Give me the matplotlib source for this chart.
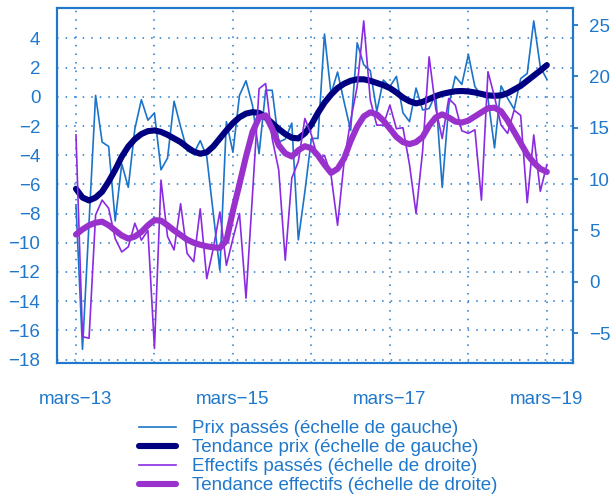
"""Prix passés / effectifs passés avec tendances, deux échelles."""

import matplotlib

matplotlib.use("Agg")

import numpy as np  # noqa: E402
from matplotlib import pyplot as plt  # noqa: E402

# mois de mars-13 à mars-19 (index mensuel)
MONTHS = np.arange(73)
YEAR_TICKS = [0, 12, 24, 36, 48, 60, 72]
YEAR_LABELS = ["mars\u221213", "", "mars\u221215", "", "mars\u221217", "", "mars\u221219"]

PRIX_PASSES = [
    -7.4, -17.3, -8.6, 0.1, -3.1, -3.4, -8.5, -4.6, -6.2, -2.2,
    -0.2, -1.6, -1.1, -5.0, -4.2, -0.3, -2.05, -3.7, -3.9, -3.0,
    -4.1, -8.0, -11.9, -1.7, -3.8, 0.1, 1.1, -0.6, -3.9, 0.45,
    0.45, -3.1, -2.9, -1.8, -9.8, -6.5, -2.85, -2.85, 4.3, 0.2,
    1.7, -0.35, -2.3, 3.7, 2.2, 1.8, -1.0, 1.15, 0.7, 1.4,
    -1.1, -1.7, 0.6, -0.9, -0.8, 0.2, -6.2, -0.6, 1.4, 0.85,
    2.9, 0.7, 0.07, -0.1, -3.5, 0.75, -0.1, -0.85, 1.25, 1.6,
    5.2, 2.05, 1.2,
]
TENDANCE_PRIX = [
    -6.3, -6.9, -7.1, -6.9, -6.5, -5.8, -5.0, -4.1, -3.4, -2.9,
    -2.55, -2.35, -2.3, -2.4, -2.6, -2.85, -3.1, -3.45, -3.75, -3.9,
    -3.8, -3.4, -2.85, -2.3, -1.8, -1.4, -1.15, -1.05, -1.1, -1.4,
    -1.8, -2.2, -2.55, -2.8, -2.85, -2.5, -1.9, -1.1, -0.4, 0.15,
    0.6, 0.9, 1.1, 1.2, 1.2, 1.1, 0.95, 0.8, 0.6, 0.3,
    -0.05, -0.3, -0.45, -0.35, -0.15, 0.05, 0.2, 0.3, 0.38, 0.4,
    0.37, 0.3, 0.2, 0.1, 0.07, 0.1, 0.25, 0.5, 0.75, 1.1,
    1.45, 1.8, 2.17,
]
EFFECTIFS_PASSES = [
    14.3, -5.35, -5.5, 6.5, 7.95, 7.15, 4.2, 2.9, 3.4, 5.7,
    4.05, 5.0, -6.5, 9.9, 4.4, 3.1, 7.6, 2.75, 1.95, 7.1,
    0.3, 3.25, 6.8, 1.6, 4.2, 6.65, -1.6, 8.6, 18.8, 19.3,
    13.95, 10.9, 2.1, 10.1, 11.7, 15.9, 14.3, 11.95, 12.3, 10.4,
    5.5, 11.7, 15.7, 19.0, 25.4, 17.7, 15.25, 15.25, 17.2, 14.9,
    15.0, 11.4, 6.65, 12.7, 21.9, 16.9, 13.95, 17.85, 17.2, 14.7,
    14.45, 14.8, 7.95, 20.45, 18.0, 15.25, 14.45, 16.7, 16.2, 7.7,
    14.3, 8.8, 11.4,
]
TENDANCE_EFFECTIFS = [
    4.6, 5.1, 5.5, 5.75, 5.85, 5.5, 5.0, 4.5, 4.2, 4.4,
    4.85, 5.5, 6.0, 5.95, 5.5, 5.0, 4.55, 4.1, 3.8, 3.6,
    3.45, 3.35, 3.3, 4.0, 6.9, 9.5, 12.2, 14.6, 16.0, 16.2,
    14.9, 13.3, 12.5, 12.2, 12.8, 13.2, 13.0, 12.3, 11.4, 10.6,
    11.0, 12.0, 13.7, 15.1, 16.1, 16.5, 16.3, 15.7, 14.9, 14.1,
    13.6, 13.4, 13.6, 14.1, 15.2, 16.0, 16.3, 16.0, 15.6, 15.5,
    15.7, 16.1, 16.5, 16.9, 16.95, 16.6, 15.7, 14.6, 13.5, 12.4,
    11.6, 11.0, 10.7,
]

AXIS_BLUE = "#1f78cc"
RAW_BLUE = "#1b74c8"
NAVY = "#000080"
RAW_PURPLE = "#8a2be2"
TREND_PURPLE = "#9932cc"

plt.rcParams["font.family"] = ["Liberation Sans", "DejaVu Sans"]
plt.rcParams["font.size"] = 13.5

fig = plt.figure(figsize=(6.11, 4.96), dpi=100)
ax = fig.add_axes([0.0933, 0.268, 0.8445, 0.7157])
ax2 = ax.twinx()

l1, = ax.plot(MONTHS, PRIX_PASSES, color=RAW_BLUE, lw=1.2,
              label="Prix passés (échelle de gauche)")
l2, = ax.plot(MONTHS, TENDANCE_PRIX, color=NAVY, lw=4.4, solid_capstyle="round",
              label="Tendance prix (échelle de gauche)")
l3, = ax2.plot(MONTHS, EFFECTIFS_PASSES, color=RAW_PURPLE, lw=1.2,
               label="Effectifs passés (échelle de droite)")
l4, = ax2.plot(MONTHS, TENDANCE_EFFECTIFS, color=TREND_PURPLE, lw=4.4,
               solid_capstyle="round",
               label="Tendance effectifs (échelle de droite)")

ax.set_xlim(-2.9, 76.0)
ax.set_ylim(-18.24, 6.08)
ax2.set_ylim(-7.92, 26.65)

ax.set_xticks(YEAR_TICKS)
ax.set_xticklabels(YEAR_LABELS)
ax.set_yticks(np.arange(-18, 5, 2))
ax2.set_yticks(np.arange(-5, 26, 5))

ax.grid(True, color=AXIS_BLUE, linestyle=(0, (1, 4.6)), lw=1.1)
ax.tick_params(axis="x", length=0, pad=20, colors=AXIS_BLUE)
ax.tick_params(axis="y", length=0, pad=12, colors=AXIS_BLUE)
ax2.tick_params(axis="y", length=3.5, width=1.3, pad=8, colors=AXIS_BLUE)

for axis in (ax, ax2):
    for spine in axis.spines.values():
        spine.set_color(AXIS_BLUE)
        spine.set_linewidth(1.5)

fig.legend(
    handles=[l1, l2, l3, l4],
    loc="upper center",
    bbox_to_anchor=(0.521, 0.153),
    frameon=False,
    labelcolor=AXIS_BLUE,
    handlelength=1.97,
    handletextpad=0.85,
    labelspacing=0.1,
    borderaxespad=0.0,
    borderpad=0.0,
)

fig.savefig("out.png", dpi=100)
